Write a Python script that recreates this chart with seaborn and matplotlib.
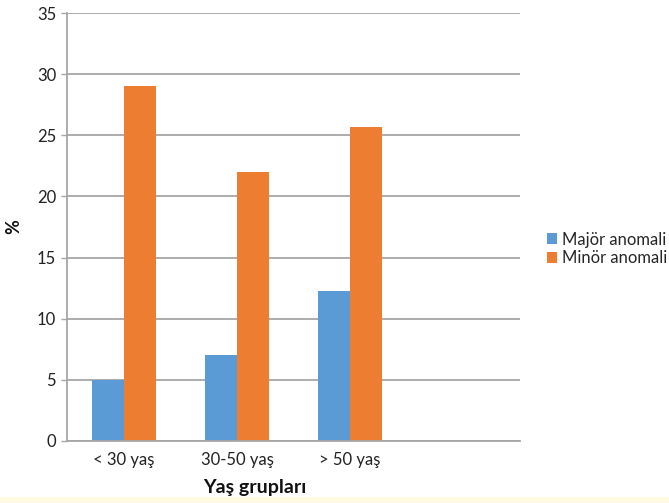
import matplotlib
matplotlib.use("Agg")
import matplotlib.pyplot as plt
import seaborn as sns
import pandas as pd
from matplotlib.patches import Rectangle

categories = ["< 30 yaş", "30-50 yaş", "> 50 yaş"]
series_names = ["Majör anomali", "Minör anomali"]
major_values = [5, 7, 12.3]
minor_values = [29, 22, 25.7]
y_ticks = [0, 5, 10, 15, 20, 25, 30, 35]

df = pd.DataFrame({
    "group": categories * 2,
    "series": [series_names[0]] * 3 + [series_names[1]] * 3,
    "value": major_values + minor_values,
})

sns.set_style("white")
plt.rcParams['font.family'] = ['Lato', 'DejaVu Sans']

fig = plt.figure(figsize=(6.69, 5.03), dpi=100)
ax = fig.add_axes([0.1006, 0.1233, 0.777 - 0.1006, 0.974 - 0.1233])

sns.barplot(data=df, x="group", y="value", hue="series", order=categories,
            hue_order=series_names, palette=["#5B9BD5", "#ED7D31"], saturation=1,
            width=0.571, gap=0, linewidth=0, ax=ax, legend=True)

ax.set_xlim(-0.5, 3.5)
ax.set_ylim(0, 35)
ax.set_yticks(y_ticks)
ax.set_yticklabels([str(t) for t in y_ticks], fontsize=12, color="#222222")
ax.tick_params(axis="y", length=4, width=1, color="#A6A6A6", pad=4, direction="out", left=True)
ax.tick_params(axis="x", length=0, pad=8, labelsize=12, labelcolor="#222222")
ax.set_xticks(range(len(categories)))
ax.set_xticklabels(categories)

ax.yaxis.grid(True, color="#A6A6A6", linewidth=1.3)
ax.set_axisbelow(True)
for s in ["top", "right"]:
    ax.spines[s].set_visible(False)
for s in ["left", "bottom"]:
    ax.spines[s].set_color("#A6A6A6")
    ax.spines[s].set_linewidth(1.3)

ax.set_xlabel("Yaş grupları", fontsize=14, fontweight="bold", color="#111111")
ax.xaxis.set_label_coords(0.415, -0.088)
ax.set_ylabel("%", fontsize=13, fontweight="bold", color="#111111")
ax.yaxis.set_label_coords(-0.1, 0.5)

ax.legend(loc="center left", bbox_to_anchor=(1.045, 0.449), frameon=False,
          fontsize=12, handlelength=0.6, handleheight=0.6, handletextpad=0.3,
          labelspacing=0.15, borderaxespad=0)

fig.patches.append(Rectangle((0, 0), 1, 6 / 503, transform=fig.transFigure,
                             facecolor="#FFFBE3", edgecolor="none", zorder=0))

fig.savefig("out.png", dpi=100)
